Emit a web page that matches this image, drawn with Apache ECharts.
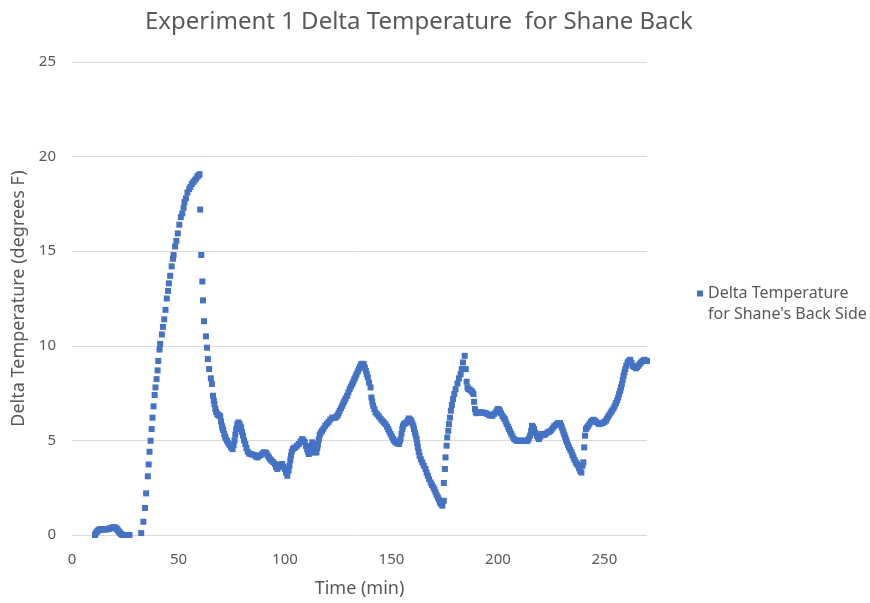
<!DOCTYPE html>
<html>
<head>
<meta charset="utf-8">
<script src="https://cdn.jsdelivr.net/npm/echarts@6/dist/echarts.min.js"></script>
<style>
  html, body { margin: 0; padding: 0; background: #fff; }
  #peak { width: 870px; height: 603px; }
</style>
</head>
<body>
<div id="peak"></div>
<script>
// readings [time (min), delta temperature (F)]
const warmUp = [
  [10.8, 0], [11.1, 0.08], [11.5, 0.15], [11.9, 0.2], [12.4, 0.25], [12.8, 0.28], [13.2, 0.3],
  [13.7, 0.3], [14.2, 0.3], [14.7, 0.3], [15.2, 0.3], [15.7, 0.3], [16.2, 0.3], [16.7, 0.31],
  [17.2, 0.32], [17.7, 0.34], [18.2, 0.36], [18.7, 0.38], [19.2, 0.4], [19.6, 0.4], [20, 0.4],
  [20.4, 0.38], [20.8, 0.35], [21.2, 0.3], [21.5, 0.25], [21.9, 0.2], [22.2, 0.15], [22.6, 0.1],
  [23, 0.05], [23.5, 0.02], [24, 0], [24.5, 0], [25, 0], [25.5, 0], [26, 0], [26.5, 0], [27, 0]
];
const firstRise = [
  [32.5, 0.1], [33.5, 0.7], [34.3, 1.43], [34.8, 2.2], [35.6, 3.1], [36, 3.73], [36.4, 4.4],
  [36.9, 4.98], [37.4, 5.6], [37.8, 6.2], [38.3, 6.8], [38.8, 7.4], [39.2, 7.8], [39.7, 8.24],
  [40.2, 8.7], [40.5, 9.2], [41.1, 9.8], [41.4, 10.1], [42.2, 10.6], [42.7, 11], [43.3, 11.4],
  [43.9, 11.9], [44.5, 12.5], [45.1, 12.9], [45.5, 13.3], [46.1, 13.7], [46.8, 14.2], [47.4, 14.6],
  [47.7, 14.8], [48.4, 15.25], [49, 15.55], [49.7, 15.94], [50.4, 16.4], [51.1, 16.8], [51.8, 17.0],
  [52.4, 17.3], [52.8, 17.6], [53.5, 17.8], [54.2, 18.1], [55, 18.28], [55.6, 18.4], [56.3, 18.55],
  [57, 18.66], [57.6, 18.75], [58.3, 18.84], [58.9, 18.95], [59.4, 19.0], [59.9, 19.07]
];
const firstFall = [
  [60.2, 17.2], [60.7, 14.8], [61.2, 13.4], [61.5, 12.4], [62, 11.3], [62.9, 10.5], [63.4, 9.9],
  [63.8, 9.3], [64.4, 8.77], [65.2, 8.28], [65.7, 7.98], [66.2, 7.36], [66.6, 7.1], [66.9, 6.92],
  [67.3, 6.66], [67.7, 6.5], [68.2, 6.39], [68.6, 6.35], [69, 6.32], [69.6, 6.27], [70, 6.0],
  [70.4, 5.77], [70.7, 5.65], [71, 5.55], [71.5, 5.34], [71.9, 5.2], [72.2, 5.1], [72.8, 4.98],
  [73.4, 4.85], [74, 4.75], [74.7, 4.62], [75.4, 4.54], [75.9, 4.75], [76.3, 5.0], [76.7, 5.3],
  [77.1, 5.6], [77.6, 5.85], [78.2, 5.95], [78.8, 5.85], [79.4, 5.69], [79.8, 5.45], [80.3, 5.25],
  [80.8, 5.0], [81.4, 4.81], [81.9, 4.6], [82.5, 4.4], [83.2, 4.3], [84, 4.28], [84.7, 4.25],
  [85.5, 4.23], [86.3, 4.15], [87.1, 4.1], [87.8, 4.18], [88.6, 4.23], [89.4, 4.3], [90.1, 4.37],
  [90.7, 4.35], [91.3, 4.33], [91.9, 4.2], [92.5, 4.1], [93.1, 4.0], [93.7, 3.93], [94.5, 3.85],
  [95.3, 3.75], [95.8, 3.6], [96.4, 3.49], [97, 3.58], [97.6, 3.66], [98.1, 3.72], [98.7, 3.75],
  [99.3, 3.6], [100, 3.49], [100.5, 3.3], [101.1, 3.13], [101.7, 3.4], [102.1, 3.66], [102.5, 3.95],
  [102.8, 4.19], [103.2, 4.4], [103.7, 4.54], [104.3, 4.6], [104.9, 4.63], [105.7, 4.72],
  [106.5, 4.81], [107.3, 4.95], [108.1, 5.07], [108.7, 5.0], [109.3, 4.9], [109.9, 4.7],
  [110.4, 4.54], [110.8, 4.4], [111.2, 4.28], [111.6, 4.36], [112, 4.45], [112.4, 4.7],
  [112.8, 4.9], [113.2, 4.6], [113.7, 4.37], [114.2, 4.37], [114.8, 4.37], [115.2, 4.6],
  [115.5, 4.8], [115.9, 5.05], [116.3, 5.28], [116.8, 5.4], [117.4, 5.5], [118.1, 5.62],
  [118.9, 5.77], [119.7, 5.88], [120.5, 5.98], [121.3, 6.1]
];
const secondPeak = [
  [122.2, 6.2], [122.9, 6.2], [123.7, 6.2], [124.3, 6.27], [124.8, 6.34], [125.2, 6.45],
  [125.7, 6.57], [126.3, 6.7], [126.9, 6.83], [127.4, 6.96], [127.9, 7.09], [128.5, 7.22],
  [129.2, 7.36], [129.8, 7.54], [130.4, 7.71], [131, 7.85], [131.6, 7.98], [132.1, 8.11],
  [132.6, 8.24], [133.1, 8.37], [133.6, 8.5], [134.2, 8.64], [134.7, 8.77], [135.2, 8.9],
  [135.8, 9.03], [136.4, 9.05], [137, 9.03], [137.5, 8.85], [138, 8.68], [138.4, 8.5],
  [138.9, 8.33], [139.5, 8.05], [140.2, 7.8], [140.6, 7.27], [141, 7.05], [141.4, 6.83],
  [142, 6.65], [142.5, 6.48], [143.3, 6.38], [144.1, 6.27], [144.9, 6.15], [145.7, 6.04],
  [146.4, 5.95], [147.2, 5.86], [147.9, 5.73], [148.5, 5.6], [149, 5.47], [149.6, 5.34],
  [150.2, 5.2], [150.8, 5.07], [151.3, 4.98], [151.9, 4.9], [152.7, 4.85], [153.5, 4.81],
  [153.9, 4.95], [154.3, 5.07], [154.7, 5.35], [155.1, 5.6], [155.4, 5.75], [155.8, 5.86],
  [156.4, 5.9], [157.1, 5.95], [157.6, 6.05], [158.2, 6.16], [158.7, 6.1], [159.3, 6.04],
  [159.8, 5.9], [160.3, 5.77], [160.6, 5.6], [161, 5.42], [161.4, 5.25], [161.8, 5.07],
  [162.1, 4.85], [162.4, 4.63], [162.8, 4.4], [163.2, 4.19], [163.8, 4.0], [164.5, 3.84],
  [165.2, 3.66], [166, 3.49], [166.5, 3.3], [167.1, 3.13], [167.7, 2.95], [168.4, 2.78],
  [169, 2.65], [169.7, 2.52], [170.2, 2.39], [170.7, 2.26], [171.2, 2.12], [171.8, 1.99],
  [172.3, 1.86], [172.8, 1.73], [173.3, 1.64], [173.9, 1.55], [174.6, 1.81]
];
const thirdPeak = [
  [174.6, 2.75], [175.1, 3.49], [175.4, 4.1], [175.9, 4.72], [176.2, 5.16], [176.7, 5.51],
  [177, 5.86], [177.5, 6.2], [177.9, 6.57], [178.4, 6.87], [178.9, 7.18], [179.5, 7.45],
  [180.1, 7.71], [181, 8.01], [181.7, 8.28], [182.5, 8.5], [183, 8.77], [183.6, 9.12], [184.4, 9.47],
  [184.9, 8.77], [185.3, 8.1], [185.7, 7.8], [186.1, 7.71], [186.8, 7.68], [187.5, 7.62],
  [188, 7.55], [188.5, 7.45], [188.8, 7.04], [189.2, 6.66], [189.6, 6.5], [190, 6.44],
  [190.6, 6.46], [191.1, 6.48], [191.9, 6.48], [192.7, 6.48], [193.5, 6.46], [194.3, 6.44],
  [195, 6.4], [195.8, 6.34], [196.6, 6.32], [197.4, 6.3], [198.2, 6.4], [199, 6.48], [199.5, 6.58],
  [200, 6.66], [200.5, 6.62], [200.9, 6.57], [201.5, 6.43], [202.1, 6.3], [202.7, 6.2],
  [203.2, 6.13], [203.6, 6.0], [204.1, 5.86], [204.7, 5.73], [205.2, 5.6], [205.7, 5.47],
  [206.3, 5.34], [206.9, 5.2], [207.6, 5.07], [208.4, 5.0], [209.2, 4.98], [209.8, 4.98],
  [210.4, 4.98], [211, 4.98], [211.5, 4.98], [212.1, 4.98], [212.7, 4.98], [213.3, 4.98],
  [213.9, 4.98], [214.5, 5.1], [215.1, 5.25], [215.6, 5.5], [216, 5.77], [216.5, 5.7], [217, 5.6],
  [217.6, 5.4], [218.3, 5.25], [218.8, 5.15], [219.3, 5.07], [219.9, 5.2], [220.5, 5.34],
  [221.1, 5.3], [221.7, 5.28], [222.5, 5.35], [223.3, 5.42], [224, 5.46], [224.8, 5.51],
  [225.6, 5.63], [226.4, 5.75], [227.2, 5.83], [228, 5.9], [228.6, 5.92], [229.2, 5.92], [229.6, 5.8]
];
const finalClimb = [
  [230, 5.69], [230.4, 5.55], [230.8, 5.42], [231.2, 5.3], [231.6, 5.16], [232, 5.03], [232.4, 4.9],
  [232.9, 4.76], [233.4, 4.63], [234, 4.5], [234.6, 4.37], [235, 4.23], [235.5, 4.1], [236, 3.97],
  [236.6, 3.84], [237.1, 3.75], [237.7, 3.66], [238.1, 3.53], [238.6, 3.4], [239.2, 3.3],
  [239.7, 3.66], [240.1, 3.84], [240.5, 4.63], [240.9, 5.25], [241.3, 5.6], [241.8, 5.68],
  [242.4, 5.77], [243, 5.88], [243.7, 5.99], [244.3, 6.04], [244.9, 6.09], [245.4, 6.04], [246, 5.99],
  [246.8, 5.92], [247.6, 5.86], [248.4, 5.89], [249.2, 5.92], [250, 5.98], [250.7, 6.04],
  [251.2, 6.15], [251.8, 6.27], [252.4, 6.37], [253, 6.48], [253.6, 6.58], [254.3, 6.69],
  [254.8, 6.83], [255.4, 6.97], [256, 7.12], [256.5, 7.27], [256.9, 7.45], [257.4, 7.62],
  [257.8, 7.8], [258.2, 7.98], [258.6, 8.2], [259, 8.42], [259.4, 8.6], [259.8, 8.77], [260.3, 8.95],
  [260.9, 9.12], [261.5, 9.2], [262.1, 9.26], [262.7, 9.1], [263.3, 8.94], [264, 8.88], [264.8, 8.81],
  [265.3, 8.88], [265.9, 8.94], [266.5, 9.03], [267.2, 9.12], [267.9, 9.2], [268.7, 9.26],
  [269.3, 9.22], [270, 9.2]
];

const seriesName = "Delta Temperature for Shane's Back Side";
const xTicks = { min: 0, max: 270, interval: 50 };
const yTicks = { min: 0, max: 25, interval: 5 };

const textColor = '#595959';
const gridColor = '#d9d9d9';
const font = 'Noto Sans';

const chart = echarts.init(document.getElementById('peak'));

const option = {
  animation: false,
  title: {
    text: 'Experiment 1 Delta Temperature  for Shane Back',
    left: 140,
    top: 5,
    textStyle: { color: textColor, fontFamily: font, fontSize: 24, fontWeight: 'normal' }
  },
  grid: { left: 72, right: 223, top: 62, bottom: 67 },
  legend: {
    left: 697,
    top: 262,
    padding: 0,
    icon: 'rect',
    itemWidth: 6,
    itemHeight: 6,
    formatter: () => " \nDelta Temperature\nfor Shane's Back Side",
    textStyle: { color: textColor, fontFamily: font, fontSize: 16, lineHeight: 21 }
  },
  xAxis: {
    type: 'value',
    min: xTicks.min,
    max: xTicks.max,
    interval: xTicks.interval,
    name: 'Time (min)',
    nameLocation: 'middle',
    nameGap: 45,
    nameTextStyle: { color: textColor, fontFamily: font, fontSize: 18 },
    axisLine: { show: false },
    axisTick: { show: false },
    splitLine: { show: false },
    axisLabel: { color: textColor, fontFamily: font, fontSize: 15, margin: 17, showMaxLabel: false }
  },
  yAxis: {
    type: 'value',
    min: yTicks.min,
    max: yTicks.max,
    interval: yTicks.interval,
    name: 'Delta Temperature (degrees F)',
    nameLocation: 'middle',
    nameGap: 41,
    nameTextStyle: { color: textColor, fontFamily: font, fontSize: 18 },
    axisLine: { show: false },
    axisTick: { show: false },
    splitLine: { show: true, lineStyle: { color: gridColor, width: 1 } },
    axisLabel: { color: textColor, fontFamily: font, fontSize: 15, margin: 16 }
  },
  series: [{
    name: seriesName,
    type: 'scatter',
    symbol: 'rect',
    symbolSize: 6,
    itemStyle: { color: '#4472C4', opacity: 1 },
    data: [].concat(warmUp, firstRise, firstFall, secondPeak, thirdPeak, finalClimb)
  }]
};

chart.setOption(option);
</script>
</body>
</html>
